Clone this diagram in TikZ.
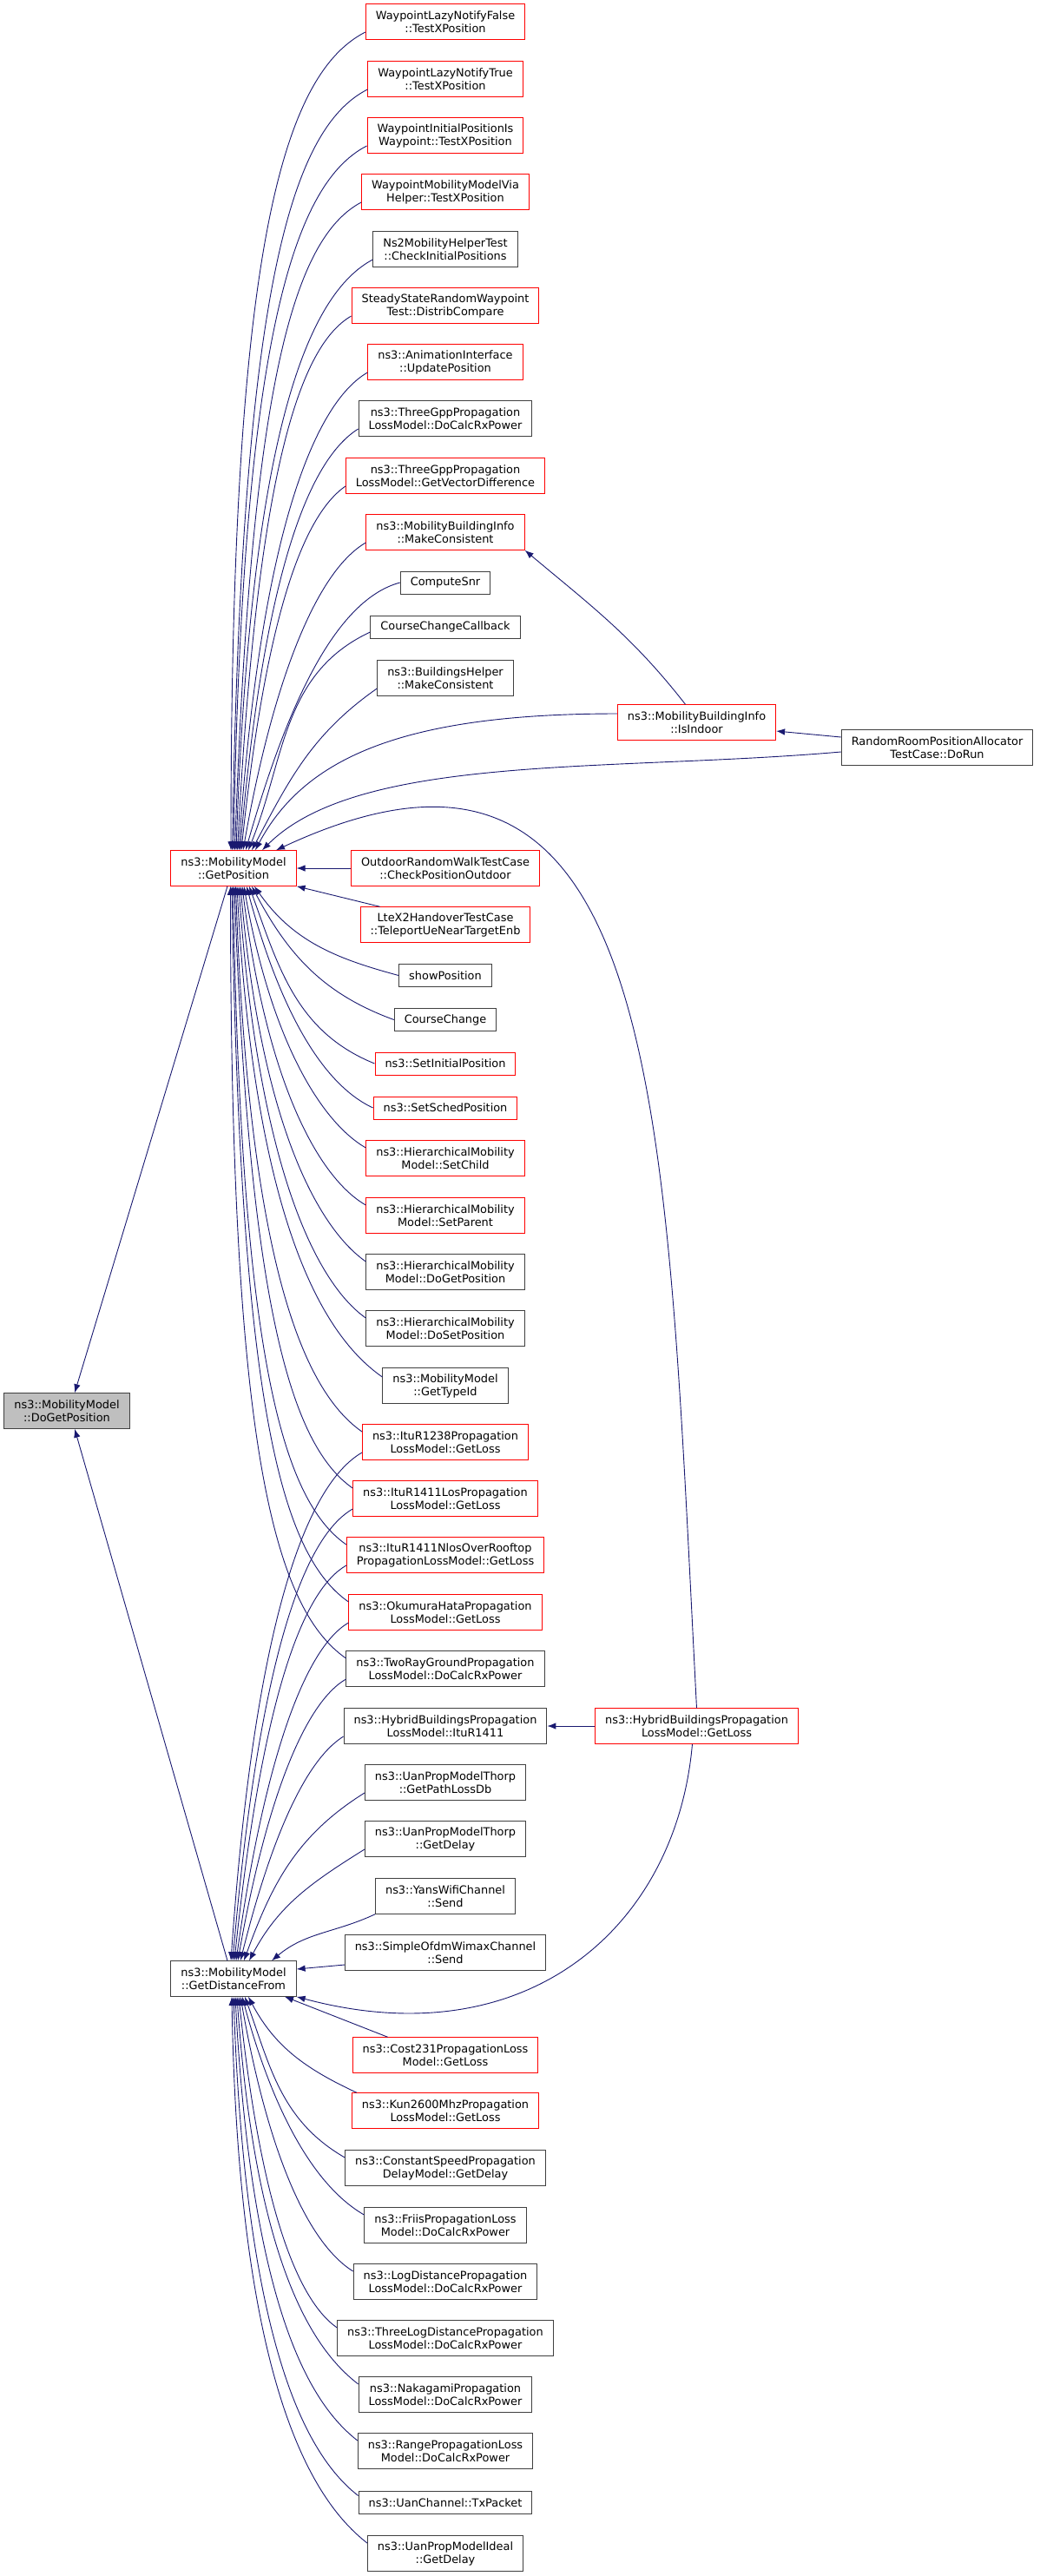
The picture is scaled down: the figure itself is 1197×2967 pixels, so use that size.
\documentclass[tikz,border=0pt]{standalone}
\usepackage{fontspec}
\setmainfont{DejaVu Sans}
\usetikzlibrary{arrows.meta}

\definecolor{edgeblue}{RGB}{25,25,112}
\definecolor{boxgrey}{RGB}{191,191,191}
\definecolor{boxline}{RGB}{64,64,64}

\tikzset{
  func/.style={draw, line width=1pt, align=center, inner xsep=11.5pt, inner ysep=2pt,
    minimum height=26pt, font=\fontsize{12.9}{15}\selectfont, fill=white},
  tall/.style={minimum height=40.5pt},
  redbox/.style={func, draw=red},
  blackbox/.style={func, draw=boxline},
  focusbox/.style={func, draw=boxline, fill=boxgrey},
  call/.style={draw=edgeblue, line width=0.9pt, -{Latex[length=10pt,width=7.5pt]}},
}

\begin{document}
\begin{tikzpicture}[x=1pt, y=-1pt]
  \useasboundingbox (0,0) rectangle (1197,2967);

  % left column
  \node[focusbox, tall] (dogetpos) at (77,1625) {ns3::MobilityModel\\::DoGetPosition};
  \node[redbox, tall] (getpos) at (269,1000) {ns3::MobilityModel\\::GetPosition};
  \node[blackbox, tall] (getdist) at (269,2279) {ns3::MobilityModel\\::GetDistanceFrom};

  % callers of GetPosition
  \node[redbox, tall] (lnf) at (513,25) {WaypointLazyNotifyFalse\\::TestXPosition};
  \node[redbox, tall] (lnt) at (513,91) {WaypointLazyNotifyTrue\\::TestXPosition};
  \node[redbox, tall] (ipw) at (513,156) {WaypointInitialPositionIs\\Waypoint::TestXPosition};
  \node[redbox, tall] (wmh) at (513,221) {WaypointMobilityModelVia\\Helper::TestXPosition};
  \node[blackbox, tall] (ns2) at (513,287) {Ns2MobilityHelperTest\\::CheckInitialPositions};
  \node[redbox, tall] (ssrw) at (513,352) {SteadyStateRandomWaypoint\\Test::DistribCompare};
  \node[redbox, tall] (anim) at (513,417) {ns3::AnimationInterface\\::UpdatePosition};
  \node[blackbox, tall] (tgdc) at (513,482) {ns3::ThreeGppPropagation\\LossModel::DoCalcRxPower};
  \node[redbox, tall] (tgvd) at (513,548) {ns3::ThreeGppPropagation\\LossModel::GetVectorDifference};
  \node[redbox, tall] (mbmc) at (513,613) {ns3::MobilityBuildingInfo\\::MakeConsistent};
  \node[blackbox] (snr) at (513,671) {ComputeSnr};
  \node[blackbox] (ccc) at (513,722) {CourseChangeCallback};
  \node[blackbox, tall] (bhmc) at (513,781) {ns3::BuildingsHelper\\::MakeConsistent};
  \node[redbox, tall] (indoor) at (802.5,832) {ns3::MobilityBuildingInfo\\::IsIndoor};
  \node[blackbox, tall] (rrpa) at (1079.5,861) {RandomRoomPositionAllocator\\TestCase::DoRun};
  \node[redbox, tall] (orw) at (513,1000) {OutdoorRandomWalkTestCase\\::CheckPositionOutdoor};
  \node[redbox, tall] (ltex2) at (513,1065) {LteX2HandoverTestCase\\::TeleportUeNearTargetEnb};
  \node[blackbox] (showpos) at (513,1123.5) {showPosition};
  \node[blackbox] (cc) at (513,1174.5) {CourseChange};
  \node[redbox] (sip) at (513,1225) {ns3::SetInitialPosition};
  \node[redbox] (ssp) at (513,1276) {ns3::SetSchedPosition};
  \node[redbox, tall] (hsc) at (513,1334) {ns3::HierarchicalMobility\\Model::SetChild};
  \node[redbox, tall] (hsp) at (513,1400) {ns3::HierarchicalMobility\\Model::SetParent};
  \node[blackbox, tall] (hdgp) at (513,1465) {ns3::HierarchicalMobility\\Model::DoGetPosition};
  \node[blackbox, tall] (hdsp) at (513,1530) {ns3::HierarchicalMobility\\Model::DoSetPosition};
  \node[blackbox, tall] (gti) at (513,1596) {ns3::MobilityModel\\::GetTypeId};

  % callers of both
  \node[redbox, tall] (itu1238) at (513,1661) {ns3::ItuR1238Propagation\\LossModel::GetLoss};
  \node[redbox, tall] (itulos) at (513,1726) {ns3::ItuR1411LosPropagation\\LossModel::GetLoss};
  \node[redbox, tall] (itunlos) at (513,1791) {ns3::ItuR1411NlosOverRooftop\\PropagationLossModel::GetLoss};
  \node[redbox, tall] (okh) at (513,1857) {ns3::OkumuraHataPropagation\\LossModel::GetLoss};
  \node[blackbox, tall] (trg) at (513,1922) {ns3::TwoRayGroundPropagation\\LossModel::DoCalcRxPower};
  \node[redbox, tall] (hbloss) at (802.5,1988) {ns3::HybridBuildingsPropagation\\LossModel::GetLoss};

  % callers of GetDistanceFrom
  \node[blackbox, tall] (hbitu) at (513,1988) {ns3::HybridBuildingsPropagation\\LossModel::ItuR1411};
  \node[blackbox, tall] (utpl) at (513,2053) {ns3::UanPropModelThorp\\::GetPathLossDb};
  \node[blackbox, tall] (utgd) at (513,2118) {ns3::UanPropModelThorp\\::GetDelay};
  \node[blackbox, tall] (yans) at (513,2184) {ns3::YansWifiChannel\\::Send};
  \node[blackbox, tall] (sow) at (513,2249) {ns3::SimpleOfdmWimaxChannel\\::Send};
  \node[redbox, tall] (cost) at (513,2367) {ns3::Cost231PropagationLoss\\Model::GetLoss};
  \node[redbox, tall] (kun) at (513,2431) {ns3::Kun2600MhzPropagation\\LossModel::GetLoss};
  \node[blackbox, tall] (csd) at (513,2497) {ns3::ConstantSpeedPropagation\\DelayModel::GetDelay};
  \node[blackbox, tall] (friis) at (513,2563) {ns3::FriisPropagationLoss\\Model::DoCalcRxPower};
  \node[blackbox, tall] (logd) at (513,2628) {ns3::LogDistancePropagation\\LossModel::DoCalcRxPower};
  \node[blackbox, tall] (tlogd) at (513,2693) {ns3::ThreeLogDistancePropagation\\LossModel::DoCalcRxPower};
  \node[blackbox, tall] (naka) at (513,2758) {ns3::NakagamiPropagation\\LossModel::DoCalcRxPower};
  \node[blackbox, tall] (range) at (513,2823) {ns3::RangePropagationLoss\\Model::DoCalcRxPower};
  \node[blackbox] (uantx) at (513,2882.5) {ns3::UanChannel::TxPacket};
  \node[blackbox, tall] (uanideal) at (513,2941) {ns3::UanPropModelIdeal\\::GetDelay};

  % into DoGetPosition
  \draw[call] ([xshift=-7pt]getpos.south) -- ([xshift=9pt]dogetpos.north);
  \draw[call] ([xshift=-7pt]getdist.north) -- ([xshift=9pt]dogetpos.south);

  % into GetPosition from above
  \draw[call] ([yshift=-12pt]lnf.west)
    to [out=207,in=90,out looseness=0.3,in looseness=1.8] ([xshift=-3pt]getpos.north);
  \draw[call] ([yshift=-12pt]lnt.west)
    to [out=207,in=89,out looseness=0.3,in looseness=1.8] ([xshift=-1.5pt]getpos.north);
  \draw[call] ([yshift=-12pt]ipw.west)
    to [out=207,in=89,out looseness=0.3,in looseness=1.8] (getpos.north);
  \draw[call] ([yshift=-12pt]wmh.west)
    to [out=208,in=88,out looseness=0.3,in looseness=1.8] ([xshift=1.5pt]getpos.north);
  \draw[call] ([yshift=-12pt]ns2.west)
    to [out=208,in=88,out looseness=0.3,in looseness=1.8] ([xshift=3pt]getpos.north);
  \draw[call] ([yshift=-12pt]ssrw.west)
    to [out=210,in=87,out looseness=0.3,in looseness=1.7] ([xshift=4.5pt]getpos.north);
  \draw[call] ([yshift=-12pt]anim.west)
    to [out=210,in=86,out looseness=0.3,in looseness=1.7] ([xshift=6pt]getpos.north);
  \draw[call] ([yshift=-12pt]tgdc.west)
    to [out=212,in=85,out looseness=0.35,in looseness=1.6] ([xshift=7.5pt]getpos.north);
  \draw[call] ([yshift=-12pt]tgvd.west)
    to [out=215,in=84,out looseness=0.35,in looseness=1.6] ([xshift=9pt]getpos.north);
  \draw[call] ([yshift=-12pt]mbmc.west)
    to [out=210,in=80,out looseness=0.45,in looseness=1.3] ([xshift=11pt]getpos.north);
  \draw[call] (snr.west)
    to [out=195,in=74,out looseness=0.6,in looseness=1.1] ([xshift=14pt]getpos.north);
  \draw[call] ([yshift=-6pt]ccc.west)
    to [out=205,in=68] ([xshift=17pt]getpos.north);
  \draw[call] ([yshift=-12pt]bhmc.west)
    to [out=215,in=62] ([xshift=21pt]getpos.north);
  \draw[call] ([yshift=10pt]indoor.west)
    to [out=180,in=62,out looseness=1.4,in looseness=0.7] ([xshift=25pt]getpos.north);
  \draw[call] ([yshift=-5pt]rrpa.west)
    to [out=185,in=45,in looseness=0.6] ([xshift=33pt]getpos.north);
  \draw[call] (hbloss.north)
    to [out=93,in=25,out looseness=1.6,in looseness=1.15] ([xshift=49pt]getpos.north);

  % side links
  \draw[call] ([xshift=-13pt]indoor.north) to [out=128,in=-40] (mbmc.south east);
  \draw[call] ([yshift=12pt]rrpa.west) -- ([yshift=-10pt]indoor.east);
  \draw[call] (orw.west) -- (getpos.east);
  \draw[call] ([xshift=23pt]ltex2.north west) -- (getpos.south east);
  \draw[call] (hbloss.west) -- (hbitu.east);

  % into GetPosition from below
  \draw[call] (showpos.west) to [out=165,in=-55] ([xshift=24pt]getpos.south);
  \draw[call] (cc.west) to [out=160,in=-62] ([xshift=21pt]getpos.south);
  \draw[call] (sip.west) to [out=158,in=-70] ([xshift=18pt]getpos.south);
  \draw[call] (ssp.west)
    to [out=155,in=-75,out looseness=0.6,in looseness=1.2] ([xshift=15pt]getpos.south);
  \draw[call] ([yshift=12pt]hsc.west)
    to [out=150,in=-80,out looseness=0.45,in looseness=1.4] ([xshift=12pt]getpos.south);
  \draw[call] ([yshift=12pt]hsp.west)
    to [out=150,in=-83,out looseness=0.4,in looseness=1.5] ([xshift=10pt]getpos.south);
  \draw[call] ([yshift=12pt]hdgp.west)
    to [out=145,in=-85,out looseness=0.35,in looseness=1.6] ([xshift=8pt]getpos.south);
  \draw[call] ([yshift=12pt]hdsp.west)
    to [out=145,in=-86,out looseness=0.3,in looseness=1.7] ([xshift=6pt]getpos.south);
  \draw[call] ([yshift=10pt]gti.west)
    to [out=145,in=-87,out looseness=0.3,in looseness=1.8] ([xshift=4pt]getpos.south);
  \draw[call] ([yshift=12pt]itu1238.west)
    to [out=145,in=-88,out looseness=0.3,in looseness=1.8] ([xshift=2.5pt]getpos.south);
  \draw[call] ([yshift=12pt]itulos.west)
    to [out=145,in=-88,out looseness=0.3,in looseness=1.8] ([xshift=1pt]getpos.south);
  \draw[call] ([yshift=12pt]itunlos.west)
    to [out=145,in=-89,out looseness=0.3,in looseness=1.8] ([xshift=-0.5pt]getpos.south);
  \draw[call] ([yshift=12pt]okh.west)
    to [out=145,in=-89,out looseness=0.3,in looseness=1.8] ([xshift=-2pt]getpos.south);
  \draw[call] ([yshift=12pt]trg.west)
    to [out=145,in=-90,out looseness=0.3,in looseness=1.8] ([xshift=-3.5pt]getpos.south);

  % into GetDistanceFrom from above
  \draw[call] ([yshift=-12pt]itu1238.west)
    to [out=210,in=86,out looseness=0.3,in looseness=1.7] ([xshift=-3pt]getdist.north);
  \draw[call] ([yshift=-12pt]itulos.west)
    to [out=210,in=85,out looseness=0.3,in looseness=1.7] ([xshift=-1pt]getdist.north);
  \draw[call] ([yshift=-12pt]itunlos.west)
    to [out=210,in=84,out looseness=0.3,in looseness=1.7] ([xshift=1pt]getdist.north);
  \draw[call] ([yshift=-12pt]okh.west)
    to [out=210,in=82,out looseness=0.35,in looseness=1.5] ([xshift=3pt]getdist.north);
  \draw[call] ([yshift=-12pt]trg.west)
    to [out=210,in=80,out looseness=0.4,in looseness=1.4] ([xshift=5pt]getdist.north);
  \draw[call] ([yshift=-12pt]hbitu.west)
    to [out=212,in=76,out looseness=0.5,in looseness=1.2] ([xshift=8pt]getdist.north);
  \draw[call] ([yshift=-12pt]utpl.west)
    to [out=212,in=70] ([xshift=12pt]getdist.north);
  \draw[call] ([yshift=-12pt]utgd.west)
    to [out=212,in=62] ([xshift=18pt]getdist.north);
  \draw[call] (yans.south west) to [out=205,in=40] ([xshift=44pt]getdist.north);
  \draw[call] ([yshift=-14pt]sow.west) -- ([yshift=11pt]getdist.east);
  \draw[call] ([xshift=-5pt]hbloss.south)
    to [out=-95,in=-15,in looseness=1.3] (getdist.south east);

  % into GetDistanceFrom from below
  \draw[call] ([xshift=41pt]cost.north west) -- ([xshift=59pt]getdist.south);
  \draw[call] ([xshift=6pt]kun.north west) to [out=155,in=-62] ([xshift=17pt]getdist.south);
  \draw[call] ([yshift=12pt]csd.west) to [out=150,in=-70] ([xshift=13pt]getdist.south);
  \draw[call] ([yshift=12pt]friis.west)
    to [out=150,in=-75,out looseness=0.6,in looseness=1.2] ([xshift=10pt]getdist.south);
  \draw[call] ([yshift=12pt]logd.west)
    to [out=148,in=-80,out looseness=0.45,in looseness=1.4] ([xshift=8pt]getdist.south);
  \draw[call] ([yshift=12pt]tlogd.west)
    to [out=145,in=-84,out looseness=0.35,in looseness=1.6] ([xshift=6pt]getdist.south);
  \draw[call] ([yshift=12pt]naka.west)
    to [out=142,in=-86,out looseness=0.3,in looseness=1.8] ([xshift=4pt]getdist.south);
  \draw[call] ([yshift=12pt]range.west)
    to [out=142,in=-87,out looseness=0.3,in looseness=1.8] ([xshift=2pt]getdist.south);
  \draw[call] ([yshift=8pt]uantx.west)
    to [out=142,in=-88,out looseness=0.3,in looseness=1.8] (getdist.south);
  \draw[call] ([yshift=12pt]uanideal.west)
    to [out=142,in=-89,out looseness=0.3,in looseness=1.8] ([xshift=-2pt]getdist.south);

\end{tikzpicture}
\end{document}
